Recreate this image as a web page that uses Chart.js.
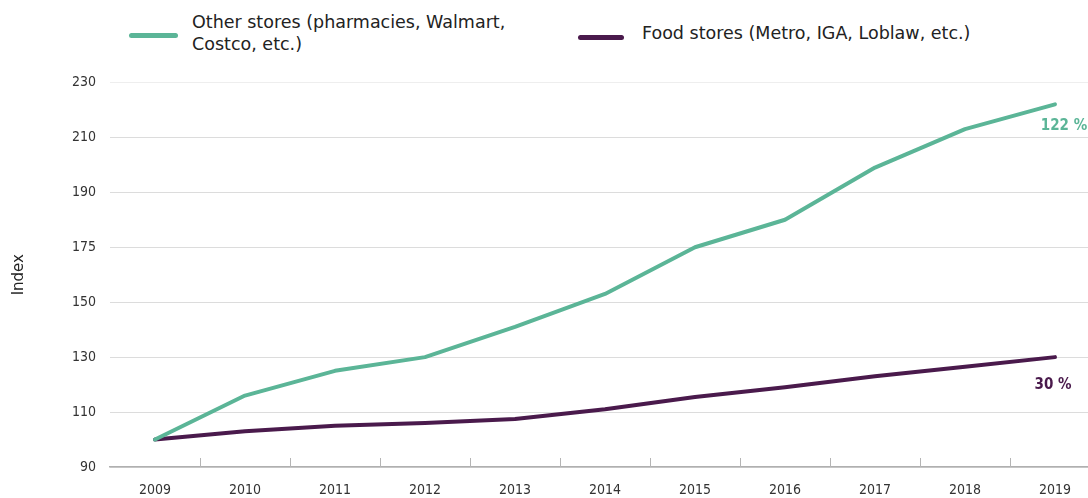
<!DOCTYPE html>
<html>
<head>
<meta charset="utf-8">
<script src="https://cdn.jsdelivr.net/npm/chart.js@4/dist/chart.umd.min.js"></script>
<style>
  html, body { margin: 0; padding: 0; background: #fff; overflow: hidden; }
  body { width: 1088px; height: 498px; position: relative; font-family: "DejaVu Sans", Verdana, sans-serif; }
  .legend { position: absolute; font-size: 17.5px; color: #222; line-height: 22px; white-space: nowrap; }
  .swatch { position: absolute; height: 5px; border-radius: 3px; }
  #wrap { position: absolute; left: 0; top: 60px; width: 1100px; height: 438px; }
</style>
</head>
<body>
<div class="swatch" style="left:129px; top:33px; width:49px; background:#5bb597;"></div>
<div class="legend" style="left:192px; top:11px;">Other stores (pharmacies, Walmart,<br>Costco, etc.)</div>
<div class="swatch" style="left:578px; top:35px; width:46px; background:#4a1a4c;"></div>
<div class="legend" style="left:642px; top:22px;">Food stores (Metro, IGA, Loblaw, etc.)</div>
<div id="wrap"><canvas id="chart"></canvas></div>
<script>
const years = ['2009', '2010', '2011', '2012', '2013', '2014', '2015', '2016', '2017', '2018', '2019'];
const otherStores = [100, 116, 125, 130, 141, 153, 170, 180, 199, 213, 222];
const foodStores = [100, 103, 105, 106, 107.5, 111, 115.5, 119, 123, 126.5, 130];
const yTickLabels = ['90', '110', '130', '150', '175', '190', '210', '230'];
const endLabels = ['122 %', '30 %'];

const TEAL = '#5bb597';
const PURPLE = '#4a1a4c';
const narrow = '"Liberation Sans Narrow", "DejaVu Sans Condensed", "Arial Narrow", sans-serif';

// short tick marks standing up from the x axis between the years
const innerTicks = {
    id: 'innerTicks',
    afterDraw(chart) {
        const x = chart.scales.x;
        const ctx = chart.ctx;
        const bottom = chart.chartArea.bottom;
        ctx.save();
        ctx.strokeStyle = '#b5b5b5';
        ctx.lineWidth = 1;
        for (let i = 1; i < years.length; i++) {
            const px = Math.round((x.getPixelForTick(i - 1) + x.getPixelForTick(i)) / 2) + 0.5;
            ctx.beginPath();
            ctx.moveTo(px, bottom - 9);
            ctx.lineTo(px, bottom);
            ctx.stroke();
        }
        ctx.restore();
    }
};

const endValues = {
    id: 'endValues',
    afterDatasetsDraw(chart) {
        const ctx = chart.ctx;
        ctx.save();
        ctx.font = 'bold 15px ' + narrow;
        ctx.textAlign = 'center';
        ctx.textBaseline = 'middle';
        const offsets = [22, 28];
        chart.data.datasets.forEach((ds, i) => {
            const pts = chart.getDatasetMeta(i).data;
            const p = pts[pts.length - 1];
            ctx.fillStyle = ds.borderColor;
            ctx.fillText(endLabels[i], p.x + (i === 0 ? 9 : -2), p.y + offsets[i]);
        });
        ctx.restore();
    }
};

new Chart(document.getElementById('chart'), {
    type: 'line',
    data: {
        labels: years,
        datasets: [
            { label: 'Other stores (pharmacies, Walmart, Costco, etc.)', data: otherStores, borderColor: TEAL, backgroundColor: TEAL },
            { label: 'Food stores (Metro, IGA, Loblaw, etc.)', data: foodStores, borderColor: PURPLE, backgroundColor: PURPLE }
        ]
    },
    options: {
        responsive: true,
        maintainAspectRatio: false,
        animation: false,
        layout: { padding: { top: 19, right: 0, left: 0, bottom: 0 } },
        elements: {
            line: { borderWidth: 4, tension: 0, borderCapStyle: 'round', borderJoinStyle: 'round' },
            point: { radius: 0 }
        },
        plugins: { legend: { display: false }, tooltip: { enabled: false } },
        scales: {
            x: {
                offset: true,
                grid: { display: false, drawTicks: false },
                border: { display: true, color: '#b0b0b0', width: 1.5 },
                ticks: { color: '#333', font: { family: narrow, size: 14 }, padding: 15, maxRotation: 0 },
                afterFit(scale) { scale.height = 31; }
            },
            y: {
                min: 90,
                max: 230,
                ticks: {
                    stepSize: 20,
                    color: '#333',
                    padding: 14,
                    font: { family: narrow, size: 14 },
                    callback: (v, i) => yTickLabels[i]
                },
                grid: {
                    drawTicks: false,
                    color: ctx => ctx.index === yTickLabels.length - 1 ? '#eeeeee' : '#dcdcdc',
                    lineWidth: 1
                },
                border: { display: false },
                title: { display: true, text: 'Index', color: '#222', font: { family: '"DejaVu Sans", Verdana, sans-serif', size: 15 }, padding: { top: 10, bottom: 30 } },
                afterFit(scale) { scale.width = 110; }
            }
        }
    },
    plugins: [innerTicks, endValues]
});
</script>
</body>
</html>
